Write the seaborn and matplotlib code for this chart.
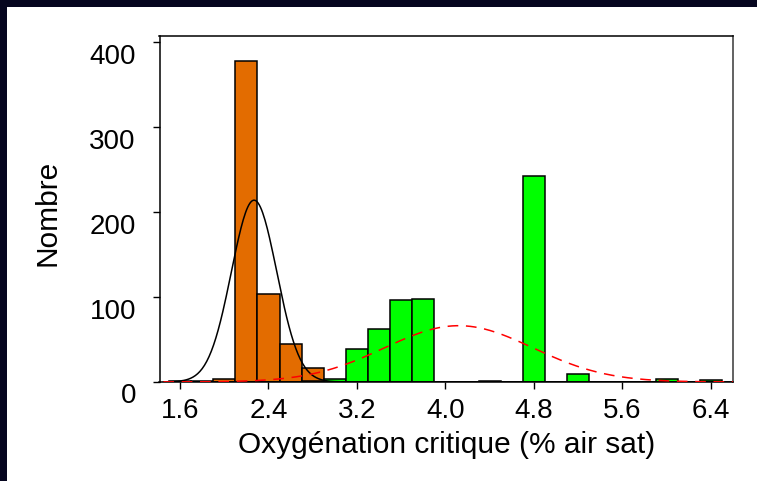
import numpy as np
import pandas as pd
import matplotlib
matplotlib.use("Agg")
import matplotlib.pyplot as plt
import matplotlib.patches as mpatches
import matplotlib.transforms as mtransforms
import seaborn as sns

# bin centres (bin width 0.2) and counts per group
bin_centers = [1.6, 1.8, 2.0, 2.2, 2.4, 2.6, 2.8, 3.0, 3.2, 3.4, 3.6, 3.8, 4.0,
               4.2, 4.4, 4.6, 4.8, 5.0, 5.2, 5.4, 5.6, 5.8, 6.0, 6.2, 6.4]
counts_orange = [1, 1, 4, 378, 104, 45, 16, 0, 0, 0, 0, 0, 0,
                 0, 1, 0, 0, 0, 0, 0, 0, 0, 0, 0, 0]
counts_green = [0, 0, 0, 0, 0, 0, 1, 4, 39, 62, 96, 98, 0,
                0, 0, 0, 242, 0, 9, 0, 0, 0, 4, 0, 2]

# normal fits drawn over each group: mean, sd, n
fit_orange = [2.27, 0.205, 550]
fit_green = [4.12, 0.67, 556]

xticks = [1.6, 2.4, 3.2, 4.0, 4.8, 5.6, 6.4]
yticks = [0, 100, 200, 300, 400]

BIN_W = 0.2

df = pd.DataFrame({"center": bin_centers,
                   "orange": counts_orange,
                   "green": counts_green})
edges = [round(1.5 + BIN_W * i, 2) for i in range(len(bin_centers) + 1)]

sns.set_style("ticks")
plt.rcParams["font.family"] = ["Liberation Sans", "DejaVu Sans"]
plt.rcParams["text.color"] = "black"
plt.rcParams["axes.labelcolor"] = "black"

fig = plt.figure(figsize=(7.57, 4.815), dpi=100, facecolor="#06061f")
# white slide panel
fig.patches.append(mpatches.Rectangle((7 / 757, 0), 1, 1 - 7 / 481,
                                      transform=fig.transFigure,
                                      facecolor="white", edgecolor="none",
                                      zorder=-10))
ax = fig.add_axes([159.5 / 757, 1 - 382 / 481, (733 - 159.5) / 757, (382 - 36) / 481])
ax.set_zorder(5)
ax.set_facecolor("white")

for col, colour in [("orange", "#E36C00"), ("green", "#00FF00")]:
    sns.histplot(data=df, x="center", weights=col, bins=edges,
                 stat="count", element="bars", fill=True, alpha=1,
                 color=colour, edgecolor="black", linewidth=1.1, ax=ax)

# normal curves
xs = np.linspace(1.45, 6.6, 500)
for (mu, sd, n), col, ls in [(fit_orange, "black", "-"), (fit_green, "red", "--")]:
    ys = n * BIN_W * np.exp(-0.5 * ((xs - mu) / sd) ** 2) / (sd * np.sqrt(2 * np.pi))
    line, = ax.plot(xs, ys, color=col, linestyle=ls, linewidth=1.1, zorder=5)
    if ls == "--":
        line.set_dashes((7, 5))

ax.set_xlim(1.415, 6.6)
ax.set_ylim(0, 408)
ax.set_xticks(xticks)
ax.set_xticklabels([f"{t:.1f}" for t in xticks])
ax.set_yticks(yticks)
ax.set_yticklabels([str(t) for t in yticks])

ax.tick_params(axis="both", direction="out", length=5, width=1,
               labelsize=20, colors="black")
ax.tick_params(axis="x", pad=6)
ax.tick_params(axis="y", pad=12)

# y labels sit just below their ticks in the original
shift = mtransforms.ScaledTranslation(0, -21 / 100, fig.dpi_scale_trans)
for lbl in ax.get_yticklabels():
    lbl.set_va("baseline")
    lbl.set_transform(lbl.get_transform() + shift)

for side in ["left", "top", "bottom"]:
    ax.spines[side].set_visible(True)
    ax.spines[side].set_color("black")
    ax.spines[side].set_linewidth(1.1)
ax.spines["right"].set_visible(True)
ax.spines["right"].set_color("#555555")
ax.spines["right"].set_linewidth(1.3)

ax.set_xlabel("Oxygénation critique (% air sat)", fontsize=21.5, labelpad=5,
              color="black")
ax.set_ylabel("Nombre", fontsize=21.5, va="center", color="black")
ax.yaxis.set_label_coords((47 - 159.5) / 573.5, 0.49)

plt.savefig("out.png", dpi=100, facecolor=fig.get_facecolor())
plt.close()
